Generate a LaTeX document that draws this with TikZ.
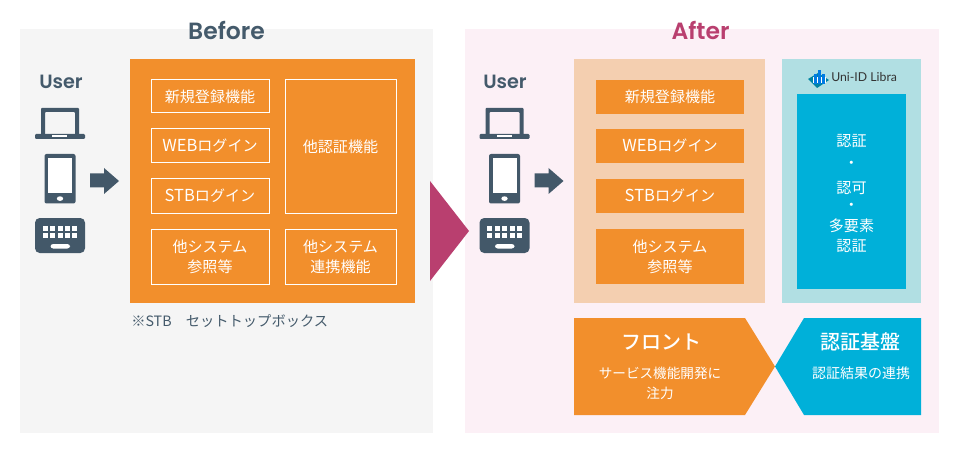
\documentclass[tikz,border=0pt]{standalone}
\usepackage{fontspec}
\setmainfont{Noto Sans CJK JP}
\newfontfamily\medf{Noto Sans CJK JP Medium}
\newfontfamily\popfont{Poppins SemiBold}[Scale=1]
\newfontfamily\lgfont{Lato}
\definecolor{bgL}{HTML}{F5F5F5}
\definecolor{bgR}{HTML}{FCF0F6}
\definecolor{org}{HTML}{F28F2C}
\definecolor{pale}{HTML}{F4CFB0}
\definecolor{teal}{HTML}{B1DFE3}
\definecolor{cyn}{HTML}{00B0D9}
\definecolor{mag}{HTML}{B93F6F}
\definecolor{ico}{HTML}{435869}
\definecolor{ttl}{HTML}{445A6B}
\newcommand{\lat}[1]{{\fontsize{12.4}{15}\selectfont #1}}
\tikzset{
 pxbox/.style={inner sep=0pt,outer sep=0pt,anchor=north west,align=center,font=\fontsize{11.3}{15}\selectfont},
 wbox/.style={pxbox,draw=white,line width=0.75pt,text=white},
 fbox/.style={pxbox,fill=org,text=white},
 lbl/.style={inner sep=0pt,text=white,align=center},
}
\newcommand{\boxat}[6]{\node[#1,minimum width=#4*0.75pt,minimum height=#5*0.75pt] (#2) at (#3) {#6};}
\newcommand{\usericons}[1]{%
 \begin{scope}[shift={(#1,0)}]
  % laptop
  \fill[ico,even odd rule,rounded corners=0.6pt] (41,108) rectangle (79,135) (45,112) rectangle (75,135);
  \fill[ico,rounded corners=0.8pt] (35,134) rectangle (85,139);
  \fill[white] (52,135.2) rectangle (67,137);
  % phone
  \fill[ico,rounded corners=1.5pt] (44.5,154) rectangle (75.5,203.5);
  \fill[white] (48,158) rectangle (72,193.5);
  \fill[white] (60,198.6) ellipse (3.2 and 2.3);
  % keyboard
  \fill[ico,rounded corners=3.5pt] (35,218) rectangle (85,253);
  \foreach \kx in {42.7,50,57.6,65,72}{
   \fill[white] (\kx,226) rectangle +(5.2,5);
   \fill[white] (\kx,233.4) rectangle +(5.2,5);
  }
  \fill[white,rounded corners=2pt] (50.5,244) rectangle (70,248.5);
  % arrow
  \fill[ico] (90,173.5) -- (104,173.5) -- (104,168) -- (119,181) -- (104,194) -- (104,187.5) -- (90,187.5) -- cycle;
 \end{scope}}
\begin{document}
\begin{tikzpicture}[x=0.75pt,y=-0.75pt]
\useasboundingbox (0,0) rectangle (960,456);
\fill[white] (0,0) rectangle (960,456);
\fill[bgL] (20,29) rectangle (433,433);
\fill[bgR] (465,29) rectangle (939,433);
\fill[mag] (430,181) -- (469,231) -- (430,281) -- cycle;

\node[inner sep=0pt,text=ttl,font=\popfont\fontsize{17.6}{18}\selectfont] (before) at (226.5,30) {Before};
\node[inner sep=0pt,text=mag,font=\popfont\fontsize{17.6}{18}\selectfont] (after) at (700.5,30) {After};
\node[inner sep=0pt,text=ttl,font=\popfont\fontsize{14.4}{14}\selectfont] (userL) at (61,82) {User};
\node[inner sep=0pt,text=ttl,font=\popfont\fontsize{14.4}{14}\selectfont] (userR) at (505,82) {User};

\usericons{0}
\usericons{444.5}

% before
\fill[org] (130,59) rectangle (415,303);
\boxat{wbox}{b1}{151,80}{118}{33}{新規登録機能}
\boxat{wbox}{b2}{151,129}{118}{34}{\lat{WEB}ログイン}
\boxat{wbox}{b3}{151,179}{118}{34}{\lat{STB}ログイン}
\boxat{wbox}{b4}{151,229}{118}{55}{他システム\\参照等}
\boxat{wbox}{b5}{285,80}{111}{133}{他認証機能}
\boxat{wbox}{b6}{285,229}{111}{55}{他システム\\連携機能}
\node[inner sep=0pt,anchor=west,text=ttl,font=\fontsize{10.7}{12}\selectfont] (note) at (131,321) {※STB\hspace{1em}セットトップボックス};

% after
\fill[pale] (574,59) rectangle (765,303);
\boxat{fbox}{a1}{596,80}{148}{34}{新規登録機能}
\boxat{fbox}{a2}{596,129}{148}{34}{\lat{WEB}ログイン}
\boxat{fbox}{a3}{596,179}{148}{34}{\lat{STB}ログイン}
\boxat{fbox}{a4}{596,229}{148}{55}{他システム\\参照等}
\fill[teal] (782,59) rectangle (921,303);
\fill[cyn] (797,94) rectangle (906,289);
\node[lbl,font=\fontsize{11.3}{15}\selectfont] (c1) at (851.5,141) {認証};
\node[lbl,font=\fontsize{11.3}{15}\selectfont] (c2) at (851.5,165) {・};
\node[lbl,font=\fontsize{11.3}{15}\selectfont] (c3) at (851.5,188) {認可};
\node[lbl,font=\fontsize{11.3}{15}\selectfont] (c4) at (851.5,207) {・};
\node[lbl,font=\fontsize{11.3}{15}\selectfont] (c5) at (851.5,236) {多要素\\認証};

% logo
\fill[cyn!75!black] (808,79) -- (818,73) -- (829,80) -- (817,88) -- cycle;
\fill[white] (812.5,77) rectangle (826,83);
\foreach \lx/\ly in {814/74,818/70,822/74}{\fill[cyn!70!blue] (\lx,\ly) rectangle (\lx+2.6,84);}
\node[inner sep=0pt,anchor=west,text=black!80,font=\lgfont\fontsize{9.2}{10}\selectfont] (logo) at (831,77) {Uni-ID Libra};

% bottom
\fill[org] (574,318) -- (745,318) -- (775,366.5) -- (745,415) -- (574,415) -- cycle;
\fill[cyn] (921,318) -- (804,318) -- (775,366.5) -- (804,415) -- (921,415) -- cycle;
\node[lbl,font=\medf\fontsize{15}{18}\selectfont] (front) at (661,342) {フロント};
\node[lbl,font=\fontsize{10.2}{15}\selectfont] (ftxt) at (660,383) {サービス機能開発に\\注力};
\node[lbl,font=\medf\fontsize{15}{18}\selectfont] (base) at (860,342) {認証基盤};
\node[lbl,font=\fontsize{10.5}{15}\selectfont] (btxt) at (861,373) {認証結果の連携};
\end{tikzpicture}
\end{document}
